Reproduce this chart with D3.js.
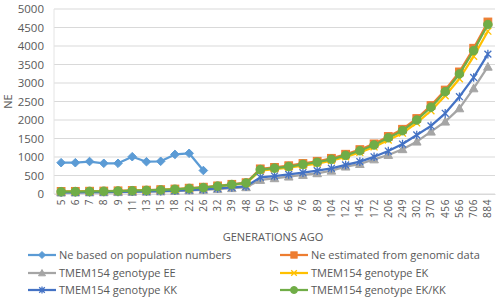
<!DOCTYPE html>
<html>
<head>
<meta charset="utf-8">
<script src="https://cdn.jsdelivr.net/npm/d3@7"></script>
<style>
  body { margin: 0; background: #fff; }
  text { font-family: "Open Sans", "Noto Sans", sans-serif; fill: #595959; }
</style>
</head>
<body>
<div id="chart"></div>
<script>
const generations = ["5","6","7","8","9","11","13","15","18","22","26","32","39","48","50","57","66","76","89","104","122","145","172","206","249","302","370","456","566","706","884"];
const popNumbers = [846, 846, 878, 830, 830, 1008, 873, 884, 1070, 1100, 635];
const genomic = [70,72,76,80,86,95,105,118,135,158,185,220,262,305,680,720,765,825,885,965,1075,1200,1355,1555,1750,2040,2390,2810,3300,3940,4650];
const genoEE = [38,40,43,46,50,55,61,69,80,95,110,132,157,182,380,425,470,515,560,630,740,810,935,1055,1210,1415,1685,1955,2315,2855,3440];
const genoEK = [60,63,67,71,77,85,95,106,122,145,166,205,247,288,630,670,712,768,823,900,1003,1123,1272,1460,1643,1920,2250,2655,3115,3720,4400];
const genoKK = [45,47,50,53,57,63,70,79,92,108,125,150,178,205,450,485,530,575,630,695,785,875,1005,1160,1350,1595,1840,2180,2630,3150,3780];
const genoEKKK = [62,65,70,74,80,88,98,110,127,150,172,212,255,298,660,700,742,800,858,938,1045,1170,1325,1520,1712,2000,2345,2765,3245,3875,4580];
const yTicks = [0,500,1000,1500,2000,2500,3000,3500,4000,4500,5000];

const series = [
  {name: "Ne based on population numbers", values: popNumbers, color: "#5B9BD5", marker: "diamond"},
  {name: "Ne estimated from genomic data", values: genomic, color: "#ED7D31", marker: "square"},
  {name: "TMEM154 genotype EE", values: genoEE, color: "#A5A5A5", marker: "triangle"},
  {name: "TMEM154 genotype EK", values: genoEK, color: "#FFC000", marker: "x"},
  {name: "TMEM154 genotype KK", values: genoKK, color: "#4472C4", marker: "star"},
  {name: "TMEM154 genotype EK/KK", values: genoEKKK, color: "#70AD47", marker: "circle"}
];

const width = 500, height = 305;
const margin = {top: 9, right: 5, bottom: 111, left: 54};

const svg = d3.select("#chart").append("svg")
    .attr("width", width)
    .attr("height", height);

const x = d3.scaleBand().domain(generations).range([margin.left, width - margin.right]);
const y = d3.scaleLinear().domain([0, 5000]).range([height - margin.bottom, margin.top]);

// gridlines
svg.append("g").selectAll("line").data(yTicks).join("line")
    .attr("x1", margin.left).attr("x2", width - margin.right)
    .attr("y1", d => y(d)).attr("y2", d => y(d))
    .attr("stroke", "#D9D9D9").attr("stroke-width", 1);

svg.append("line")
    .attr("x1", margin.left).attr("x2", margin.left)
    .attr("y1", y(5000)).attr("y2", y(0))
    .attr("stroke", "#E4E4E4");

// y axis
const yAxis = d3.axisLeft(y).tickValues(yTicks).tickFormat(d3.format("d")).tickSize(0).tickPadding(10);
const gy = svg.append("g").attr("transform", `translate(${margin.left},0)`).call(yAxis);
gy.select(".domain").remove();
gy.selectAll("text").style("font-size", "11.5px").attr("fill", "#595959");

// x axis
const xAxis = d3.axisBottom(x).tickSize(0).tickPadding(5);
const gx = svg.append("g").attr("transform", `translate(0,${y(0)})`).call(xAxis);
gx.select(".domain").attr("stroke", "#D9D9D9");
gx.selectAll("text")
    .style("font-size", "10px")
    .style("letter-spacing", "0.6px")
    .attr("fill", "#595959")
    .attr("text-anchor", "end")
    .attr("transform", "rotate(-90)")
    .attr("x", -5)
    .attr("y", 0)
    .attr("dy", "0.35em");

svg.append("text")
    .attr("x", 273).attr("y", 241)
    .attr("text-anchor", "middle")
    .style("font-size", "11px")
    .text("GENERATIONS AGO");

svg.append("text")
    .attr("transform", `translate(12,${(y(0) + y(5000)) / 2}) rotate(-90)`)
    .attr("text-anchor", "middle")
    .style("font-size", "11px")
    .text("NE");

function drawMarker(g, type, color, size) {
  const s = size;
  if (type === "diamond") {
    g.append("path").attr("d", `M0,${-s}L${s},0L0,${s}L${-s},0Z`).attr("fill", color).attr("stroke", color);
  } else if (type === "square") {
    g.append("rect").attr("x", -s * 0.9).attr("y", -s * 0.9).attr("width", s * 1.8).attr("height", s * 1.8).attr("fill", color).attr("stroke", color);
  } else if (type === "triangle") {
    g.append("path").attr("d", `M0,${-s}L${s},${s * 0.8}L${-s},${s * 0.8}Z`).attr("fill", color).attr("stroke", color);
  } else if (type === "x") {
    g.append("path").attr("d", `M${-s * 0.8},${-s * 0.8}L${s * 0.8},${s * 0.8}M${-s * 0.8},${s * 0.8}L${s * 0.8},${-s * 0.8}`).attr("stroke", color).attr("stroke-width", 1.3);
  } else if (type === "star") {
    g.append("path").attr("d", `M${-s * 0.8},${-s * 0.8}L${s * 0.8},${s * 0.8}M${-s * 0.8},${s * 0.8}L${s * 0.8},${-s * 0.8}M0,${-s}L0,${s}`).attr("stroke", color).attr("stroke-width", 1.3);
  } else if (type === "circle") {
    g.append("circle").attr("r", s).attr("fill", color).attr("stroke", color);
  }
}

const line = d3.line()
    .x((d, i) => x(generations[i]) + x.bandwidth() / 2)
    .y(d => y(d));

series.forEach(s => {
  const g = svg.append("g");
  g.append("path")
      .attr("d", line(s.values))
      .attr("fill", "none")
      .attr("stroke", s.color)
      .attr("stroke-width", 2.25)
      .attr("stroke-linejoin", "round");
  s.values.forEach((v, i) => {
    const m = g.append("g")
        .attr("transform", `translate(${x(generations[i]) + x.bandwidth() / 2},${y(v)})`);
    drawMarker(m, s.marker, s.color, 4.3);
  });
});

// legend
const legendRows = [255, 273, 290];
series.forEach((s, i) => {
  const col = i % 2, row = Math.floor(i / 2);
  const lx = col === 0 ? 28 : 280;
  const ly = legendRows[row];
  const g = svg.append("g").attr("transform", `translate(${lx},${ly})`);
  g.append("line").attr("x1", 0).attr("x2", 28).attr("y1", 0).attr("y2", 0)
      .attr("stroke", s.color).attr("stroke-width", 2.25);
  const m = g.append("g").attr("transform", "translate(14,0)");
  drawMarker(m, s.marker, s.color, 3.5);
  g.append("text").attr("x", 31).attr("y", 0).attr("dy", "0.35em")
      .style("font-size", "11px")
      .text(s.name);
});
</script>
</body>
</html>
